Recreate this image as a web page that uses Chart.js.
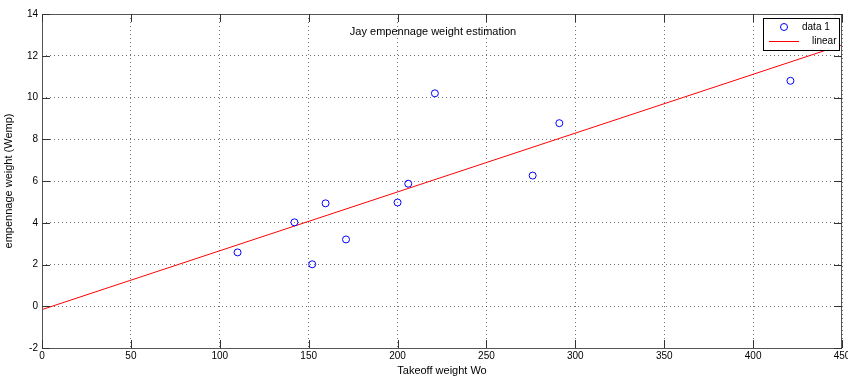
<!DOCTYPE html>
<html>
<head>
<meta charset="utf-8">
<script src="https://cdn.jsdelivr.net/npm/chart.js@4/dist/chart.umd.min.js"></script>
<style>
  html, body { margin: 0; padding: 0; background: #fff; }
  #wrap { width: 848px; height: 379px; }
</style>
</head>
<body>
<div id="wrap"><canvas id="weightChart" width="848" height="379"></canvas></div>
<script>
// takeoff weight Wo and empennage weight Wemp
const takeoffWeight = [110, 142, 152, 159.5, 171, 200, 206, 221, 276, 291, 421];
const empennageWeight = [2.58, 4.02, 2.01, 4.93, 3.2, 4.97, 5.87, 10.2, 6.26, 8.77, 10.8];

// linear fit, endpoints at the axis limits
const fitX = [0, 450];
const fitY = [-0.16, 12.52];

const titleText = 'Jay empennage weight estimation';
const legendLabels = ['data 1', 'linear'];

const font = '"Liberation Sans", Arial, sans-serif';

const ctx = document.getElementById('weightChart').getContext('2d');

// MATLAB style: box, inward ticks, title and legend inside the axes
const matlabBox = {
  id: 'matlabBox',
  afterDraw(chart) {
    const c = chart.ctx;
    const a = chart.chartArea;
    const xs = chart.scales.x, ys = chart.scales.y;
    c.save();
    c.strokeStyle = '#555';
    c.lineWidth = 1;
    c.setLineDash([]);
    c.strokeRect(Math.round(a.left) + 0.5, Math.round(a.top) + 0.5,
      Math.round(a.right - a.left) - 1, Math.round(a.bottom - a.top));
    c.strokeStyle = '#333';
    c.beginPath();
    xs.ticks.forEach(t => {
      const px = Math.round(xs.getPixelForValue(t.value)) + 0.5;
      c.moveTo(px, a.bottom); c.lineTo(px, a.bottom - 8);
      c.moveTo(px, a.top); c.lineTo(px, a.top + 8);
    });
    ys.ticks.forEach(t => {
      const py = Math.round(ys.getPixelForValue(t.value)) + 0.5;
      c.moveTo(a.left, py); c.lineTo(a.left + 8, py);
      c.moveTo(a.right, py); c.lineTo(a.right - 8, py);
    });
    c.stroke();

    // title
    c.fillStyle = '#000';
    c.font = '11px ' + font;
    c.textAlign = 'center';
    c.textBaseline = 'middle';
    c.fillText(titleText, 433, a.top + 18);

    // legend
    const lx = Math.round(a.right) - 79, ly = Math.round(a.top) + 4;
    c.fillStyle = '#fff';
    c.fillRect(lx, ly, 76, 32);
    c.strokeStyle = '#000';
    c.strokeRect(lx + 0.5, ly + 0.5, 76, 32);
    c.strokeStyle = '#0000ff';
    c.beginPath();
    c.arc(lx + 21, ly + 9, 3.5, 0, Math.PI * 2);
    c.stroke();
    c.strokeStyle = '#ff0000';
    c.beginPath();
    c.moveTo(lx + 6, ly + 23.5); c.lineTo(lx + 36, ly + 23.5);
    c.stroke();
    c.fillStyle = '#000';
    c.font = '10px ' + font;
    c.textAlign = 'left';
    c.fillText(legendLabels[0], lx + 39, ly + 9);
    c.fillText(legendLabels[1], lx + 49, ly + 23);
    c.restore();
  }
};

new Chart(ctx, {
  type: 'scatter',
  data: {
    datasets: [{
      label: legendLabels[0],
      data: takeoffWeight.map((x, i) => ({ x: x, y: empennageWeight[i] })),
      showLine: false,
      pointStyle: 'circle',
      pointRadius: 3.5,
      pointBorderWidth: 1,
      borderColor: '#0000ff',
      backgroundColor: 'rgba(0,0,0,0)'
    }, {
      label: legendLabels[1],
      data: fitX.map((x, i) => ({ x: x, y: fitY[i] })),
      showLine: true,
      pointRadius: 0,
      borderColor: '#ff0000',
      borderWidth: 1,
      fill: false
    }]
  },
  options: {
    responsive: false,
    animation: false,
    layout: { padding: { top: 14, right: 6, left: 0, bottom: 0 } },
    plugins: {
      legend: { display: false },
      tooltip: { enabled: false }
    },
    scales: {
      x: {
        type: 'linear',
        min: 0, max: 450,
        afterFit: s => { s.height = 31; s.paddingLeft = 0; s.paddingRight = 0; },
        ticks: { stepSize: 50, color: '#000', font: { family: font, size: 10 }, padding: 2, maxRotation: 0 },
        grid: { color: 'rgba(0,0,0,0.55)', tickLength: 0, drawTicks: false },
        border: { display: false, dash: [1, 3] },
        title: { display: true, text: 'Takeoff weight Wo', color: '#000', font: { family: font, size: 11 }, padding: { top: 0, bottom: 1 } }
      },
      y: {
        min: -2, max: 14,
        afterFit: s => { s.width = 42; },
        ticks: { stepSize: 2, color: '#000', font: { family: font, size: 10 }, padding: 4 },
        grid: { color: 'rgba(0,0,0,0.55)', tickLength: 0, drawTicks: false },
        border: { display: false, dash: [1, 3] },
        title: { display: true, text: 'empennage weight (Wemp)', color: '#000', font: { family: font, size: 11 }, padding: { top: 2, bottom: 0 } }
      }
    }
  },
  plugins: [matlabBox]
});
</script>
</body>
</html>
